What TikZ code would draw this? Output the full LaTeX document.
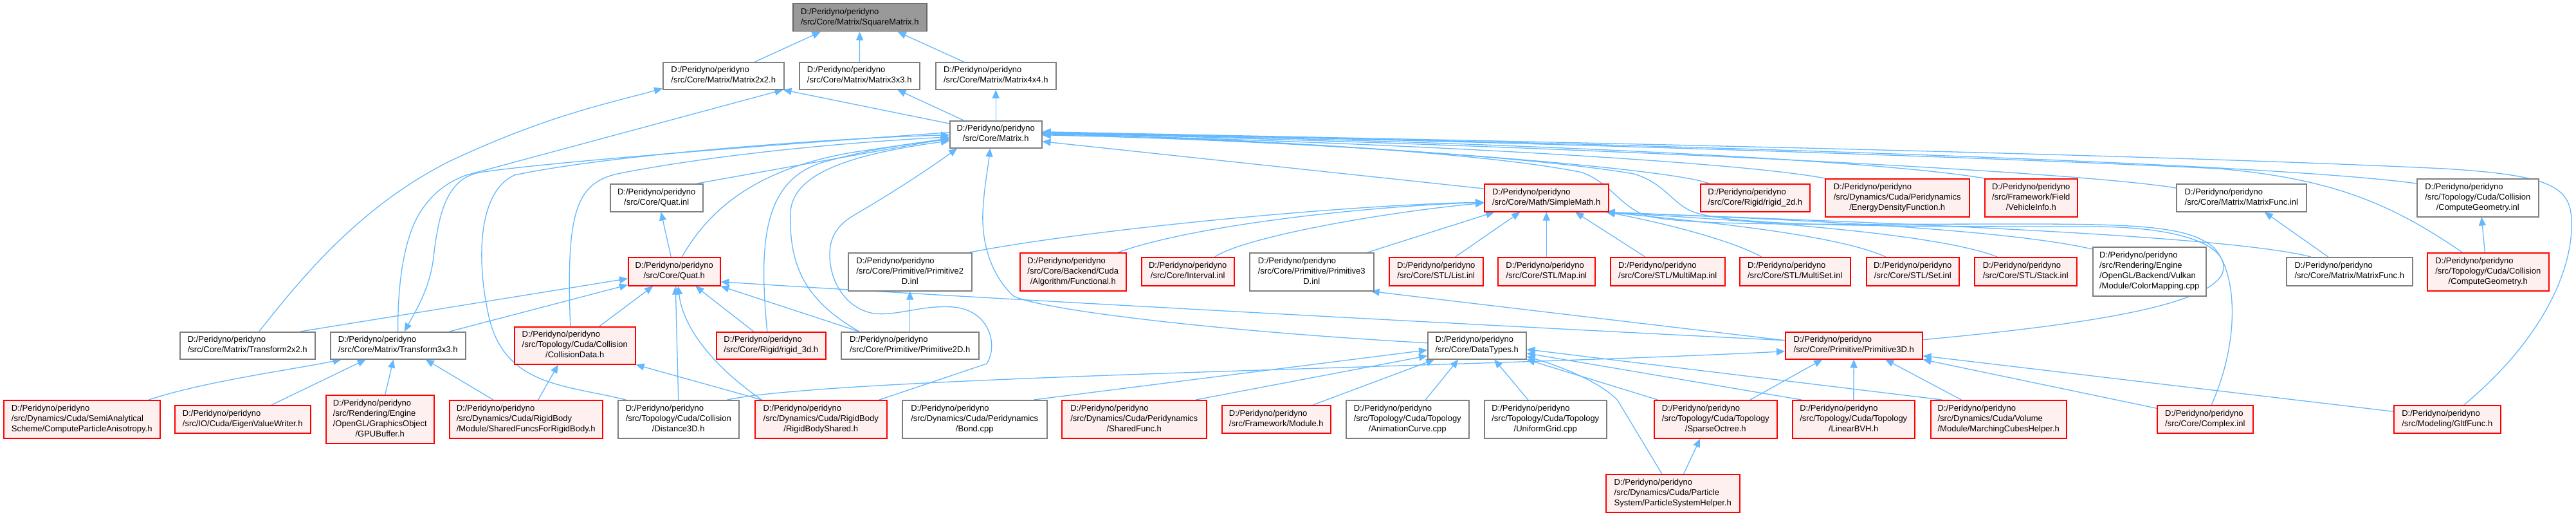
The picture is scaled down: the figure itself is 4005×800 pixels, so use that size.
\documentclass[tikz,border=0pt]{standalone}
\usepackage{fontspec}
\newfontfamily\dxfont{Liberation Sans}
\usetikzlibrary{arrows.meta}
\definecolor{edgeblue}{HTML}{63B8FF}
\definecolor{ndgray}{HTML}{7F7F7F}
\definecolor{ndred}{HTML}{FF0000}
\definecolor{ndpink}{HTML}{FFF0F0}
\definecolor{rootfill}{HTML}{999999}
\definecolor{rootline}{HTML}{666666}
\newcommand{\nlab}[2]{\begin{tabular}{@{}l@{}}#1\\\multicolumn{1}{@{}c@{}}{#2}\end{tabular}}
\newcommand{\DP}{D:/Peridyno/peridyno}
\pgfdeclarelayer{edgelayer}
\pgfsetlayers{edgelayer,main}
\tikzset{
  nd/.style={draw=ndgray, fill=white, line width=1.5pt, inner sep=0pt, anchor=north west,
    font=\dxfont\fontsize{13}{16}\selectfont},
  rd/.style={nd, draw=ndred, fill=ndpink},
  rt/.style={nd, draw=rootline, fill=rootfill},
  sz/.style 2 args={minimum width=#1pt, minimum height=#2pt},
  lnk/.style={draw=edgeblue, line width=1.3pt, -{Triangle[length=13pt,width=11pt]}},
}
\begin{document}
\begin{tikzpicture}[x=1pt,y=-1pt]
\useasboundingbox (0,0) rectangle (4005,800);
\begin{pgfonlayer}{edgelayer}
\fill[white] (0,0) rectangle (4005,800);
\end{pgfonlayer}
% ---------------- nodes ----------------
\node[rt, sz={208}{43}] (sq) at (1232,5) {\nlab{\DP}{/src/Core/Matrix/SquareMatrix.h}};
\node[nd, sz={188}{42}] (m22) at (1030,96) {\nlab{\DP}{/src/Core/Matrix/Matrix2x2.h}};
\node[nd, sz={187}{42}] (m33) at (1242,96) {\nlab{\DP}{/src/Core/Matrix/Matrix3x3.h}};
\node[nd, sz={187}{42}] (m44) at (1454,96) {\nlab{\DP}{/src/Core/Matrix/Matrix4x4.h}};
\node[nd, sz={143}{42}] (mat) at (1476,187) {\nlab{\DP}{/src/Core/Matrix.h}};
\node[nd, sz={144}{43}] (qinl) at (948,285) {\nlab{\DP}{/src/Core/Quat.inl}};
\node[rd, sz={193}{43}] (smath) at (2307,285) {\nlab{\DP}{/src/Core/Math/SimpleMath.h}};
\node[rd, sz={170}{43}] (r2d) at (2643,285) {\nlab{\DP}{/src/Core/Rigid/rigid\_2d.h}};
\node[rd, sz={224}{59}] (edf) at (2837,277) {\nlab{\DP\\/src/Dynamics/Cuda/Peridynamics}{/EnergyDensityFunction.h}};
\node[rd, sz={144}{59}] (veh) at (3085,277) {\nlab{\DP\\/src/Framework/Field}{/VehicleInfo.h}};
\node[nd, sz={202}{43}] (mfinl) at (3383,285) {\nlab{\DP}{/src/Core/Matrix/MatrixFunc.inl}};
\node[nd, sz={189}{59}] (cginl) at (3757,277) {\nlab{\DP\\/src/Topology/Cuda/Collision}{/ComputeGeometry.inl}};
\node[rd, sz={143}{44}] (quat) at (976,399) {\nlab{\DP}{/src/Core/Quat.h}};
\node[nd, sz={192}{59}] (p2inl) at (1318,392) {\nlab{\DP\\/src/Core/Primitive/Primitive2}{D.inl}};
\node[rd, sz={165}{59}] (func) at (1585,392) {\nlab{\DP\\/src/Core/Backend/Cuda}{/Algorithm/Functional.h}};
\node[rd, sz={144}{44}] (intv) at (1774,399) {\nlab{\DP}{/src/Core/Interval.inl}};
\node[nd, sz={193}{59}] (p3inl) at (1942,392) {\nlab{\DP\\/src/Core/Primitive/Primitive3}{D.inl}};
\node[rd, sz={146}{44}] (list) at (2159,399) {\nlab{\DP}{/src/Core/STL/List.inl}};
\node[rd, sz={151}{44}] (map) at (2328,399) {\nlab{\DP}{/src/Core/STL/Map.inl}};
\node[rd, sz={178}{44}] (mmap) at (2503,399) {\nlab{\DP}{/src/Core/STL/MultiMap.inl}};
\node[rd, sz={172}{44}] (mset) at (2704,399) {\nlab{\DP}{/src/Core/STL/MultiSet.inl}};
\node[rd, sz={144}{44}] (set) at (2901,399) {\nlab{\DP}{/src/Core/STL/Set.inl}};
\node[rd, sz={159}{44}] (stack) at (3069,399) {\nlab{\DP}{/src/Core/STL/Stack.inl}};
\node[nd, sz={176}{76}] (cmap) at (3253,383) {\nlab{\DP\\/src/Rendering/Engine\\/OpenGL/Backend/Vulkan}{/Module/ColorMapping.cpp}};
\node[nd, sz={196}{44}] (mfh) at (3554,399) {\nlab{\DP}{/src/Core/Matrix/MatrixFunc.h}};
\node[rd, sz={189}{59}] (cgh) at (3773,392) {\nlab{\DP\\/src/Topology/Cuda/Collision}{/ComputeGeometry.h}};
\node[nd, sz={210}{42}] (t22) at (279,515) {\nlab{\DP}{/src/Core/Matrix/Transform2x2.h}};
\node[nd, sz={210}{42}] (t33) at (513,515) {\nlab{\DP}{/src/Core/Matrix/Transform3x3.h}};
\node[rd, sz={188}{58}] (cdata) at (799,507) {\nlab{\DP\\/src/Topology/Cuda/Collision}{/CollisionData.h}};
\node[rd, sz={170}{42}] (r3d) at (1113,515) {\nlab{\DP}{/src/Core/Rigid/rigid\_3d.h}};
\node[nd, sz={214}{42}] (p2h) at (1307,515) {\nlab{\DP}{/src/Core/Primitive/Primitive2D.h}};
\node[nd, sz={153}{42}] (dtypes) at (2219,515) {\nlab{\DP}{/src/Core/DataTypes.h}};
\node[rd, sz={213}{42}] (p3h) at (2775,515) {\nlab{\DP}{/src/Core/Primitive/Primitive3D.h}};
\node[rd, sz={243}{59}] (cpa) at (5,621) {\nlab{\DP\\/src/Dynamics/Cuda/SemiAnalytical}{Scheme/ComputeParticleAnisotropy.h}};
\node[rd, sz={211}{43}] (evw) at (271,629) {\nlab{\DP}{/src/IO/Cuda/EigenValueWriter.h}};
\node[rd, sz={168}{75}] (gpub) at (506,613) {\nlab{\DP\\/src/Rendering/Engine\\/OpenGL/GraphicsObject}{/GPUBuffer.h}};
\node[rd, sz={238}{59}] (sfrb) at (698,621) {\nlab{\DP\\/src/Dynamics/Cuda/RigidBody}{/Module/SharedFuncsForRigidBody.h}};
\node[nd, sz={188}{59}] (d3d) at (960,621) {\nlab{\DP\\/src/Topology/Cuda/Collision}{/Distance3D.h}};
\node[rd, sz={205}{59}] (rbs) at (1173,621) {\nlab{\DP\\/src/Dynamics/Cuda/RigidBody}{/RigidBodyShared.h}};
\node[nd, sz={225}{59}] (bond) at (1402,621) {\nlab{\DP\\/src/Dynamics/Cuda/Peridynamics}{/Bond.cpp}};
\node[rd, sz={225}{59}] (sfunc) at (1650,621) {\nlab{\DP\\/src/Dynamics/Cuda/Peridynamics}{/SharedFunc.h}};
\node[rd, sz={169}{43}] (module) at (1899,629) {\nlab{\DP}{/src/Framework/Module.h}};
\node[nd, sz={191}{59}] (anim) at (2092,621) {\nlab{\DP\\/src/Topology/Cuda/Topology}{/AnimationCurve.cpp}};
\node[nd, sz={190}{59}] (ugrid) at (2307,621) {\nlab{\DP\\/src/Topology/Cuda/Topology}{/UniformGrid.cpp}};
\node[rd, sz={191}{59}] (socto) at (2571,621) {\nlab{\DP\\/src/Topology/Cuda/Topology}{/SparseOctree.h}};
\node[rd, sz={190}{59}] (lbvh) at (2786,621) {\nlab{\DP\\/src/Topology/Cuda/Topology}{/LinearBVH.h}};
\node[rd, sz={211}{59}] (mcube) at (3001,621) {\nlab{\DP\\/src/Dynamics/Cuda/Volume}{/Module/MarchingCubesHelper.h}};
\node[rd, sz={149}{43}] (cplx) at (3353,629) {\nlab{\DP}{/src/Core/Complex.inl}};
\node[rd, sz={166}{43}] (gltf) at (3721,629) {\nlab{\DP}{/src/Modeling/GltfFunc.h}};
\node[rd, sz={208}{59}] (psh) at (2496,736) {\nlab{\DP\\/src/Dynamics/Cuda/Particle}{System/ParticleSystemHelper.h}};
% ---------------- edges ----------------
\begin{pgfonlayer}{edgelayer}
\draw[lnk] ([xshift=49pt]m22.north) -- ([xshift=-61pt]sq.south);
\draw[lnk] (m33.north) -- (sq.south);
\draw[lnk] ([xshift=-50pt]m44.north) -- ([xshift=59pt]sq.south);
\draw[lnk] ([yshift=-5pt]mat.north west) -- ([xshift=-2pt]m22.south east);
\draw[lnk] ([xshift=-50pt]mat.north) -- ([xshift=59pt]m33.south);
\draw[lnk] (mat.north) -- (m44.south);
\draw[lnk] ([xshift=18pt]t22.north) .. controls (470,430) and (560,320) .. (700,250) .. controls (850,180) and (940,162) .. ([yshift=2pt]m22.south west);
\draw[lnk] (t33.north) .. controls (618,440) and (628,375) .. (650,335) .. controls (668,305) and (690,285) .. (725,272) -- ([xshift=-2pt]m22.south east);
\draw[lnk] ([yshift=3pt]mat.west) .. controls (1200,225) and (850,252) .. (745,268) .. controls (695,278) and (682,330) .. (674,400) .. controls (668,450) and (645,485) .. ([xshift=10pt]t33.north);
% into Matrix.h from the left
\draw[lnk] ([xshift=63pt]qinl.north) -- ([yshift=-6pt]mat.west);
\draw[lnk] ([xshift=12pt]quat.north) .. controls (1100,330) and (1170,262) .. (1330,236) -- ([yshift=-6pt]mat.west);
\draw[lnk] ([xshift=-7pt]cdata.north) .. controls (880,330) and (895,285) .. (960,270) .. controls (1100,242) and (1300,222) .. ([yshift=-4pt]mat.west);
\draw[lnk] ([xshift=-82pt]d3d.north) .. controls (880,598) and (790,600) .. (762,500) .. controls (742,420) and (738,300) .. (800,272) .. controls (950,240) and (1300,214) .. ([yshift=-1pt]mat.west);
\draw[lnk] ([xshift=-6pt]r3d.north) .. controls (1180,380) and (1185,280) .. (1280,252) .. controls (1350,232) and (1420,222) .. ([yshift=-8pt]mat.west);
\draw[lnk] ([xshift=-79pt]p2h.north) .. controls (1258,470) and (1226,420) .. (1229,330) .. controls (1232,270) and (1320,240) .. ([yshift=-10pt]mat.west);
\draw[lnk] ([xshift=91pt]rbs.north) -- (1534,565) .. controls (1552,538) and (1540,482) .. (1482,477) .. controls (1430,473) and (1385,495) .. (1350,485) .. controls (1315,475) and (1292,440) .. (1290,400) .. controls (1289,370) and (1300,350) .. (1330,333) .. controls (1400,292) and (1450,258) .. ([xshift=-60pt]mat.south);
\draw[lnk] ([yshift=4pt]dtypes.west) .. controls (1900,515) and (1620,482) .. (1576,460) .. controls (1545,432) and (1526,385) .. (1528,330) .. controls (1530,290) and (1536,262) .. ([xshift=-9pt]mat.south);
% into Matrix.h from the right
\draw[lnk] ([yshift=-8pt]smath.north west) -- ([yshift=-11pt]mat.east);
\draw[lnk] ([xshift=14pt]r2d.north west) .. controls (2600,262) and (2100,220) .. ([yshift=-1pt]mat.east);
\draw[lnk] (edf.north west) .. controls (2700,250) and (2100,218) .. (mat.east);
\draw[lnk] (veh.north west) .. controls (2900,245) and (2200,215) .. ([yshift=1pt]mat.east);
\draw[lnk] ([yshift=-7pt]mfinl.north west) .. controls (3200,262) and (2300,222) .. ([yshift=2pt]mat.east);
\draw[lnk] ([yshift=-8pt]cginl.north west) .. controls (3500,250) and (2400,218) .. ([yshift=2pt]mat.east);
\draw[lnk] ([xshift=-40pt]cgh.north) .. controls (3720,318) and (3630,278) .. (3450,262) .. controls (3000,240) and (2200,216) .. ([yshift=3pt]mat.east);
\draw[lnk] ([xshift=26pt]gltf.north) .. controls (3950,530) and (4002,420) .. (3998,340) .. controls (3995,290) and (3965,272) .. (3800,262) .. controls (3300,238) and (2300,218) .. ([yshift=4pt]mat.east);
\draw[lnk] ([xshift=10pt]cplx.north) .. controls (3482,530) and (3478,430) .. (3445,388) .. controls (3410,352) and (3330,348) .. (3150,348) .. controls (2850,348) and (2620,352) .. (2560,335) .. controls (2520,322) and (2505,285) .. (2460,268) .. controls (2300,235) and (1900,214) .. ([yshift=1pt]mat.east);
\draw[lnk] ([yshift=9pt]p3h.east) .. controls (3200,508) and (3430,480) .. (3455,425) .. controls (3470,385) and (3400,352) .. (3250,352) .. controls (2950,352) and (2700,352) .. (2635,330) .. controls (2600,318) and (2590,285) .. (2540,270) .. controls (2350,238) and (1900,216) .. ([yshift=2pt]mat.east);
% into SimpleMath.h
\draw[lnk] ([xshift=-4pt]p2inl.north east) .. controls (1700,355) and (2100,318) .. ([yshift=-7pt]smath.west);
\draw[lnk] ([xshift=70pt]func.north) .. controls (1850,352) and (2100,322) .. ([yshift=-7pt]smath.west);
\draw[lnk] ([xshift=42pt]intv.north) .. controls (1935,368) and (2150,330) .. ([yshift=-8pt]smath.west);
\draw[lnk] ([xshift=87pt]p3inl.north) -- ([xshift=-81pt]smath.south);
\draw[lnk] ([xshift=30pt]list.north) -- ([xshift=-41pt]smath.south);
\draw[lnk] (map.north) -- (smath.south);
\draw[lnk] ([xshift=-35pt]mmap.north) -- ([xshift=45pt]smath.south);
\draw[lnk] ([xshift=-52pt]mset.north) .. controls (2690,372) and (2580,345) .. ([xshift=-4pt]smath.south east);
\draw[lnk] ([xshift=-42pt]set.north) .. controls (2850,362) and (2620,342) .. ([xshift=-4pt]smath.south east);
\draw[lnk] ([xshift=-44pt]stack.north) .. controls (3000,358) and (2660,340) .. ([xshift=-4pt]smath.south east);
\draw[lnk] ([yshift=-4pt]cmap.north west) .. controls (3100,352) and (2700,338) .. ([xshift=-4pt]smath.south east);
\draw[lnk] ([xshift=-60pt]mfh.north) .. controls (3450,362) and (2800,342) .. ([xshift=-4pt]smath.south east);
% into Quat.h
\draw[lnk] ([xshift=-5pt]quat.north) -- ([xshift=7pt]qinl.south);
\draw[lnk] ([xshift=82pt]t22.north) -- ([yshift=-11pt]quat.west);
\draw[lnk] ([xshift=80pt]t33.north) -- ([yshift=2pt]quat.south west);
\draw[lnk] ([xshift=38pt]cdata.north) -- ([xshift=-33pt]quat.south);
\draw[lnk] (d3d.north) -- ([xshift=2pt]quat.south);
\draw[lnk] ([xshift=-92pt]rbs.north) .. controls (1110,570) and (1062,510) .. ([xshift=6pt]quat.south);
\draw[lnk] ([xshift=-27pt]r3d.north) -- ([xshift=33pt]quat.south);
\draw[lnk] ([xshift=-79pt]p2h.north) -- (quat.south east);
\draw[lnk] ([yshift=8pt]p3h.west) .. controls (2300,505) and (1500,462) .. ([yshift=-16pt]quat.east);
% into Transform3x3.h
\draw[lnk] ([xshift=104pt]cpa.north) .. controls (320,592) and (450,575) .. ([xshift=-88pt]t33.south);
\draw[lnk] ([xshift=45pt]evw.north) -- ([xshift=-50pt]t33.south);
\draw[lnk] ([xshift=8pt]gpub.north) -- ([xshift=-7pt]t33.south);
\draw[lnk] ([xshift=-51pt]sfrb.north) -- ([xshift=43pt]t33.south);
% into CollisionData.h
\draw[lnk] ([xshift=19pt]sfrb.north) -- ([xshift=-26pt]cdata.south);
\draw[lnk] ([xshift=-92pt]rbs.north) -- (cdata.south east);
% primitives
\draw[lnk] (p2h.north) -- (p2inl.south);
\draw[lnk] ([yshift=8pt]p3h.west) -- ([xshift=-5pt]p3inl.south east);
% into DataTypes.h
\draw[lnk] ([xshift=92pt]bond.north) -- ([yshift=-7pt]dtypes.west);
\draw[lnk] ([xshift=96pt]sfunc.north) -- ([yshift=-16pt]dtypes.west);
\draw[lnk] ([xshift=57pt]module.north) -- ([xshift=-66pt]dtypes.south);
\draw[lnk] ([xshift=28pt]anim.north) -- ([xshift=-29pt]dtypes.south);
\draw[lnk] ([xshift=-27pt]ugrid.north) -- ([xshift=27pt]dtypes.south);
\draw[lnk] ([xshift=-90pt]socto.north) -- (dtypes.south east);
\draw[lnk] ([xshift=-81pt]lbvh.north) -- ([yshift=-12pt]dtypes.east);
\draw[lnk] ([xshift=-88pt]mcube.north) -- ([yshift=-6pt]dtypes.east);
\draw[lnk] ([xshift=-17pt]psh.north) -- (2515,622) .. controls (2490,595) and (2430,570) .. ([yshift=-17pt]dtypes.east);
% into Primitive3D.h
\draw[lnk] ([xshift=76pt]d3d.north) .. controls (1300,585) and (2300,570) .. ([yshift=-9pt]p3h.west);
\draw[lnk] ([xshift=54pt]socto.north) -- ([xshift=-49pt]p3h.south);
\draw[lnk] (lbvh.north) -- (p3h.south);
\draw[lnk] ([xshift=-58pt]mcube.north) -- ([xshift=49pt]p3h.south);
\draw[lnk] ([yshift=12pt]gltf.west) -- ([yshift=-16pt]p3h.east);
\draw[lnk] ([yshift=17pt]cplx.west) -- (p3h.south east);
% others
\draw[lnk] ([xshift=17pt]psh.north) -- ([xshift=-24pt]socto.south);
\draw[lnk] ([xshift=-33pt]mfh.north) -- ([xshift=36pt]mfinl.south);
\draw[lnk] ([xshift=-5pt]cgh.north) -- ([xshift=6pt]cginl.south);
\end{pgfonlayer}
\end{tikzpicture}
\end{document}
